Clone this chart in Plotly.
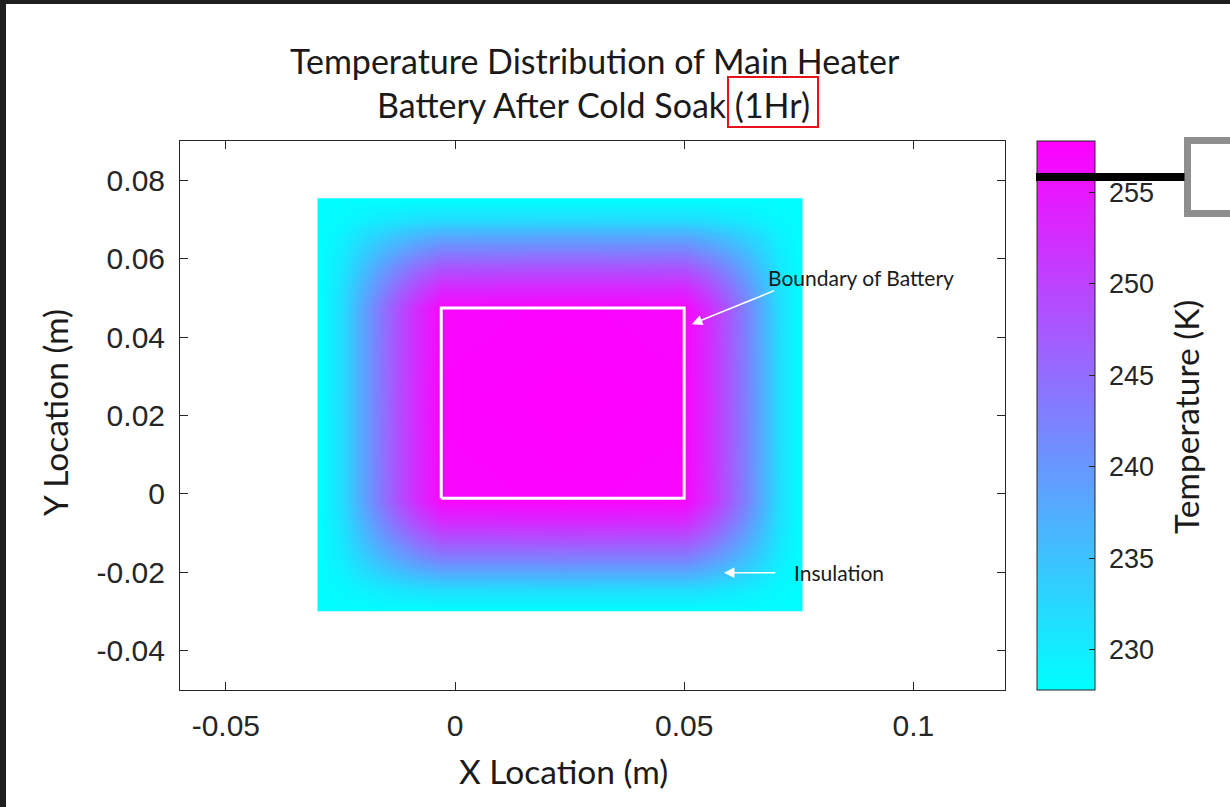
import plotly.graph_objects as go

# ---- grid node positions (m) and temperatures (K) ----
x_nodes = [-0.0298, -0.0294, -0.0246, -0.0205, -0.0165, -0.0125, -0.0084, -0.0030, 0.0235,
           0.0500, 0.0551, 0.0590, 0.0629, 0.0667, 0.0706, 0.0752, 0.0756]
y_nodes = [-0.0298, -0.0294, -0.0243, -0.0200, -0.0158, -0.0115, -0.0072, -0.0015, 0.0230,
           0.0474, 0.0530, 0.0572, 0.0614, 0.0656, 0.0698, 0.0748, 0.0752]

temperature_K = [
    [228.0, 228.0, 228.0, 228.0, 228.0, 228.0, 228.0, 228.0, 228.0, 228.0, 228.0, 228.0, 228.0, 228.0, 228.0, 228.0, 228.0],
    [228.0, 228.0, 228.0, 228.0, 228.0, 228.0, 228.0, 228.0, 228.0, 228.0, 228.0, 228.0, 228.0, 228.0, 228.0, 228.0, 228.0],
    [228.0, 228.0, 228.5, 229.3, 230.1, 230.7, 231.4, 231.9, 232.0, 231.9, 231.4, 230.7, 230.1, 229.3, 228.5, 228.0, 228.0],
    [228.0, 228.0, 229.3, 231.4, 233.2, 234.9, 236.4, 237.9, 238.0, 237.9, 236.4, 234.9, 233.2, 231.4, 229.3, 228.0, 228.0],
    [228.0, 228.0, 230.1, 233.2, 236.1, 238.7, 241.0, 243.3, 243.5, 243.3, 241.0, 238.7, 236.1, 233.2, 230.1, 228.0, 228.0],
    [228.0, 228.0, 230.7, 234.9, 238.7, 242.1, 245.2, 248.2, 248.5, 248.2, 245.2, 242.1, 238.7, 234.9, 230.7, 228.0, 228.0],
    [228.0, 228.0, 231.4, 236.4, 241.0, 245.2, 249.0, 252.7, 253.0, 252.7, 249.0, 245.2, 241.0, 236.4, 231.4, 228.0, 228.0],
    [228.0, 228.0, 231.9, 237.9, 243.3, 248.2, 252.7, 257.0, 257.4, 257.0, 252.7, 248.2, 243.3, 237.9, 231.9, 228.0, 228.0],
    [228.0, 228.0, 232.0, 238.0, 243.5, 248.5, 253.0, 257.4, 257.8, 257.4, 253.0, 248.5, 243.5, 238.0, 232.0, 228.0, 228.0],
    [228.0, 228.0, 231.9, 237.9, 243.3, 248.2, 252.7, 257.0, 257.4, 257.0, 252.7, 248.2, 243.3, 237.9, 231.9, 228.0, 228.0],
    [228.0, 228.0, 231.4, 236.4, 241.0, 245.2, 249.0, 252.7, 253.0, 252.7, 249.0, 245.2, 241.0, 236.4, 231.4, 228.0, 228.0],
    [228.0, 228.0, 230.7, 234.9, 238.7, 242.1, 245.2, 248.2, 248.5, 248.2, 245.2, 242.1, 238.7, 234.9, 230.7, 228.0, 228.0],
    [228.0, 228.0, 230.1, 233.2, 236.1, 238.7, 241.0, 243.3, 243.5, 243.3, 241.0, 238.7, 236.1, 233.2, 230.1, 228.0, 228.0],
    [228.0, 228.0, 229.3, 231.4, 233.2, 234.9, 236.4, 237.9, 238.0, 237.9, 236.4, 234.9, 233.2, 231.4, 229.3, 228.0, 228.0],
    [228.0, 228.0, 228.5, 229.3, 230.1, 230.7, 231.4, 231.9, 232.0, 231.9, 231.4, 230.7, 230.1, 229.3, 228.5, 228.0, 228.0],
    [228.0, 228.0, 228.0, 228.0, 228.0, 228.0, 228.0, 228.0, 228.0, 228.0, 228.0, 228.0, 228.0, 228.0, 228.0, 228.0, 228.0],
    [228.0, 228.0, 228.0, 228.0, 228.0, 228.0, 228.0, 228.0, 228.0, 228.0, 228.0, 228.0, 228.0, 228.0, 228.0, 228.0, 228.0],
]

# battery outline (m)
battery_x = [-0.0030, 0.0500]
battery_y = [-0.0011, 0.0474]

# axis ticks
x_tickvals = [-0.05, 0, 0.05, 0.1]
x_ticktext = ["-0.05", "0", "0.05", "0.1"]
y_tickvals = [-0.04, -0.02, 0, 0.02, 0.04, 0.06, 0.08]
y_ticktext = ["-0.04", "-0.02", "0", "0.02", "0.04", "0.06", "0.08"]
cb_tickvals = [230, 235, 240, 245, 250, 255]
cb_ticktext = ["230", "235", "240", "245", "250", "255"]
t_min, t_max = 227.8, 257.8

# ---- page geometry (px) ----
W, H = 1230, 807
L, R, T, B = 180, 225, 141, 117
PW, PH = W - L - R, H - T - B


def px(xp):
    return (xp - L) / PW


def py(yp):
    return (H - B - yp) / PH


AX = "#262626"
TXT = "#1a1a1a"
AXIS_TICK_FONT = dict(family="Liberation Sans, Arial, sans-serif", size=30, color=AX)
CB_TICK_FONT = dict(family="Liberation Sans, Arial, sans-serif", size=27, color=AX)
LABEL_FONT = "Lato, 'Open Sans', sans-serif"

fig = go.Figure()

fig.add_trace(go.Heatmap(
    x=x_nodes, y=y_nodes, z=temperature_K,
    zsmooth="best",
    colorscale=[[0, "#00ffff"], [1, "#ff00ff"]],
    zmin=t_min, zmax=t_max,
    hoverinfo="skip",
    colorbar=dict(
        x=px(1037), xanchor="left", xpad=0,
        y=0.5, yanchor="middle", ypad=0,
        len=1, lenmode="fraction",
        thickness=58, thicknessmode="pixels",
        outlinewidth=1, outlinecolor=AX,
        ticks="inside", ticklen=6, tickcolor=AX, tickwidth=1,
        tickvals=cb_tickvals,
        # a no-break space nudges each label a little further from the bar
        ticktext=["\u00a0" + t for t in cb_ticktext],
        tickfont=CB_TICK_FONT,
    ),
))

fig.add_trace(go.Scatter(
    x=[battery_x[0], battery_x[1], battery_x[1], battery_x[0], battery_x[0]],
    y=[battery_y[0], battery_y[0], battery_y[1], battery_y[1], battery_y[0]],
    mode="lines", line=dict(color="white", width=3),
    hoverinfo="skip", showlegend=False,
))

axis_common = dict(
    showgrid=False, zeroline=False,
    showline=True, linecolor=AX, linewidth=1, mirror="ticks",
    ticks="inside", ticklen=8, tickcolor=AX, tickwidth=1,
    tickfont=AXIS_TICK_FONT,
)

fig.update_layout(
    width=W, height=H,
    margin=dict(l=L, r=R, t=T, b=B, autoexpand=False),
    paper_bgcolor="white", plot_bgcolor="white",
    showlegend=False,
    xaxis=dict(range=[-0.06, 0.12], tickvals=x_tickvals, ticktext=x_ticktext,
               ticklabelstandoff=9, **axis_common),
    yaxis=dict(range=[-0.05, 0.09], tickvals=y_tickvals, ticktext=y_ticktext,
               ticklabelstandoff=8, **axis_common),
)

annotations = [
    # title lines
    dict(text="Temperature Distribution of Main Heater", x=px(595), y=py(61),
         font=dict(family=LABEL_FONT, size=34, color=TXT)),
    dict(text="Battery After Cold Soak (1Hr)", x=px(593), y=py(105),
         font=dict(family=LABEL_FONT, size=34, color=TXT)),
    # axis titles
    dict(text="X Location (m)", x=px(563), y=py(771),
         font=dict(family=LABEL_FONT, size=33.5, color=TXT)),
    dict(text="Y Location (m)", x=px(55), y=py(413), textangle=-90,
         font=dict(family=LABEL_FONT, size=33.5, color=TXT)),
    dict(text="Temperature (K)", x=px(1186), y=py(417), textangle=-90,
         font=dict(family=LABEL_FONT, size=33.5, color=TXT)),
    # callout labels
    dict(text="Boundary of Battery", x=0.0885, y=0.0553, xref="x", yref="y",
         font=dict(family=LABEL_FONT, size=21, color=TXT)),
    dict(text="Insulation", x=0.0838, y=-0.0201, xref="x", yref="y",
         font=dict(family=LABEL_FONT, size=21, color=TXT)),
]
for a in annotations:
    a.setdefault("xref", "paper")
    a.setdefault("yref", "paper")
    a.update(showarrow=False, xanchor="center", yanchor="middle")

# white pointer arrows
annotations += [
    dict(text="", x=0.0517, y=0.0433, ax=0.0700, ay=0.0520,
         xref="x", yref="y", axref="x", ayref="y",
         showarrow=True, arrowhead=2, arrowsize=1.3, arrowwidth=1.6,
         arrowcolor="white", standoff=0),
    dict(text="", x=0.0587, y=-0.0201, ax=0.0702, ay=-0.0201,
         xref="x", yref="y", axref="x", ayref="y",
         showarrow=True, arrowhead=2, arrowsize=1.3, arrowwidth=1.6,
         arrowcolor="white", standoff=0),
    # black marker line across the top of the colour bar
    dict(text="", x=px(1036), y=py(177), xref="paper", yref="paper",
         ax=150, ay=0, showarrow=True, arrowhead=0, arrowwidth=8,
         arrowcolor="black", standoff=0),
]
fig.update_layout(annotations=annotations)

shapes = [
    # red highlight box around "(1Hr)"
    dict(type="rect", xref="paper", yref="paper",
         x0=px(728), x1=px(818), y0=py(127), y1=py(77),
         line=dict(color="#e8121a", width=2), fillcolor="rgba(0,0,0,0)"),
    # grey callout box at the right edge
    dict(type="rect", xref="paper", yref="paper",
         x0=px(1187.5), x1=px(1250), y0=py(213.5), y1=py(140.5),
         line=dict(color="#8e8e8e", width=7), fillcolor="white"),
    # dark window frame along the top and left
    dict(type="rect", xref="paper", yref="paper",
         x0=px(0), x1=px(W), y0=py(4), y1=py(0),
         line=dict(width=0), fillcolor="#1f1f1f"),
    dict(type="rect", xref="paper", yref="paper",
         x0=px(0), x1=px(6), y0=py(H), y1=py(0),
         line=dict(width=0), fillcolor="#1f1f1f"),
]
fig.update_layout(shapes=shapes)

fig.write_html("out.html")
